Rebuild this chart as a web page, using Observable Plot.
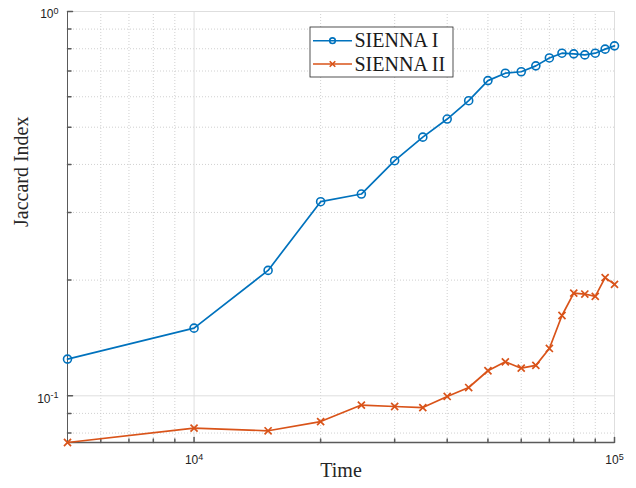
<!DOCTYPE html>
<html>
<head>
<meta charset="utf-8">
<script src="https://cdn.jsdelivr.net/npm/d3@7"></script>
<script src="https://cdn.jsdelivr.net/npm/@observablehq/plot@0.6"></script>
<style>
  html, body { margin: 0; padding: 0; background: white; }
  #chart { width: 636px; height: 488px; }
</style>
</head>
<body>
<div id="chart"></div>
<script>
// ---- data ----
const time = [5000, 10000, 15000, 20000, 25000, 30000, 35000, 40000, 45000, 50000,
              55000, 60000, 65000, 70000, 75000, 80000, 85000, 90000, 95000, 100000];
const sienna1 = [0.1246, 0.150, 0.212, 0.320, 0.335, 0.409, 0.471, 0.525, 0.586, 0.661,
                 0.691, 0.697, 0.722, 0.757, 0.779, 0.776, 0.771, 0.779, 0.798, 0.814];
const sienna2 = [0.0756, 0.0824, 0.0811, 0.0857, 0.0946, 0.0938, 0.0932, 0.0996, 0.1051, 0.1162,
                 0.1226, 0.118, 0.120, 0.1328, 0.1618, 0.185, 0.184, 0.1814, 0.203, 0.195];
const seriesNames = ["SIENNA I", "SIENNA II"];
const xMajorTicks = [10000, 100000];
const xMinorTicks = [6000, 7000, 8000, 9000, 20000, 30000, 40000, 50000, 60000, 70000, 80000, 90000];
const yMajorTicks = [0.1, 1];
const yMinorTicks = [0.08, 0.09, 0.2, 0.3, 0.4, 0.5, 0.6, 0.7, 0.8, 0.9];
const xLabel = "Time";
const yLabel = "Jaccard Index";

// ---- build ----
const colors = ["#0072BD", "#D95319"];
const d1 = time.map((t, i) => ({t, v: sienna1[i]}));
const d2 = time.map((t, i) => ({t, v: sienna2[i]}));
const xMin = d3.min(time), xMax = d3.max(time);
const yMin = Math.min(d3.min(sienna1), d3.min(sienna2));
const yMax = 1;
const fmt = d => "10^" + Math.round(Math.log10(d));
const tickShape = {draw(ctx, l) { ctx.moveTo(0, 0); ctx.lineTo(0, -l); }};
const axisColor = "#5a5a5a";
const textColor = "#262626";

const chart = Plot.plot({
  width: 636,
  height: 488,
  marginLeft: 67,
  marginRight: 22,
  marginTop: 11,
  marginBottom: 46,
  style: {fontFamily: "Liberation Sans", fontSize: "11px", color: textColor, background: "white"},
  x: {type: "log", domain: [xMin, xMax]},
  y: {type: "log", domain: [yMin, yMax]},
  marks: [
    // grid
    Plot.ruleX(xMinorTicks, {stroke: "#c4c4c4", strokeDasharray: "1,2", strokeWidth: 0.8}),
    Plot.ruleY(yMinorTicks, {stroke: "#c4c4c4", strokeDasharray: "1,2", strokeWidth: 0.8}),
    Plot.ruleX(xMajorTicks, {stroke: "#dedede", strokeWidth: 1}),
    Plot.ruleY(yMajorTicks, {stroke: "#dedede", strokeWidth: 1}),
    // axes lines
    Plot.ruleY([yMin], {stroke: axisColor, strokeWidth: 1.5}),
    Plot.ruleX([xMin], {stroke: axisColor, strokeWidth: 1}),
    // inward ticks
    Plot.vector(xMinorTicks, {x: d => d, y: () => yMin, length: 3.5, anchor: "start", shape: tickShape, stroke: axisColor}),
    Plot.vector(xMajorTicks, {x: d => d, y: () => yMin, length: 5, anchor: "start", shape: tickShape, stroke: axisColor}),
    Plot.vector(yMinorTicks, {x: () => xMin, y: d => d, length: 3.5, rotate: 90, anchor: "start", shape: tickShape, stroke: axisColor}),
    Plot.vector(yMajorTicks, {x: () => xMin, y: d => d, length: 5, rotate: 90, anchor: "start", shape: tickShape, stroke: axisColor}),
    // tick labels
    Plot.axisX(xMajorTicks, {tickSize: 0, tickPadding: 13, tickFormat: fmt, label: null, fill: "#222", fontSize: 12}),
    Plot.axisY(yMajorTicks, {tickSize: 0, tickPadding: 9, tickFormat: fmt, label: null, fill: "#222", fontSize: 12, dy: 3}),
    // axis labels
    Plot.text([xLabel], {frameAnchor: "bottom", dy: 34.5, text: d => d, fontFamily: "Liberation Serif", fontSize: 20, fill: textColor}),
    Plot.text([yLabel], {frameAnchor: "left", dx: -45.5, rotate: -90, text: d => d, fontFamily: "Liberation Serif", fontSize: 20, fill: textColor}),
    // series
    Plot.line(d1, {x: "t", y: "v", stroke: colors[0], strokeWidth: 1.7}),
    Plot.dot(d1, {x: "t", y: "v", r: 4, stroke: colors[0], strokeWidth: 1.6, fill: "none"}),
    Plot.line(d2, {x: "t", y: "v", stroke: colors[1], strokeWidth: 1.7}),
    Plot.dot(d2, {x: "t", y: "v", r: 3.3, symbol: "times", stroke: colors[1], strokeWidth: 1.7})
  ]
});

document.getElementById("chart").appendChild(chart);

// superscript tick labels
const svg = d3.select(chart);
svg.selectAll('g[aria-label$="tick label"] text').each(function () {
  const s = this.textContent;
  if (!s.includes("^")) return;
  const [base, exp] = s.split("^");
  const t = d3.select(this);
  t.text(null).attr("font-size", "12px").attr("font-family", "Liberation Sans");
  t.append("tspan").attr("font-size", "12px").text(base);
  t.append("tspan").attr("dy", "-0.5em").attr("font-size", "9px").text(exp);
});

// legend
const lg = svg.append("g").attr("aria-label", "legend").attr("text-anchor", "start");
lg.append("rect").attr("x", 310).attr("y", 27).attr("width", 143).attr("height", 50)
  .attr("fill", "white").attr("stroke", "#262626").attr("stroke-width", 0.8);
const rows = [40.7, 64];
seriesNames.forEach((name, i) => {
  const y = rows[i];
  lg.append("line").attr("x1", 313).attr("x2", 352).attr("y1", y).attr("y2", y)
    .attr("stroke", colors[i]).attr("stroke-width", 1.6);
  if (i === 0) {
    lg.append("circle").attr("cx", 332.5).attr("cy", y).attr("r", 2.8)
      .attr("fill", "none").attr("stroke", colors[i]).attr("stroke-width", 1.6);
  } else {
    lg.append("path").attr("d", d3.symbol(d3.symbolTimes, 22)())
      .attr("transform", `translate(332.5,${y})`).attr("fill", "none")
      .attr("stroke", colors[i]).attr("stroke-width", 1.6);
  }
  lg.append("text").attr("x", 354.5).attr("y", y + 6.6).attr("text-anchor", "start")
    .attr("font-family", "Liberation Serif").attr("font-size", 20).attr("fill", "#1a1a1a")
    .text(name);
});
</script>
</body>
</html>
